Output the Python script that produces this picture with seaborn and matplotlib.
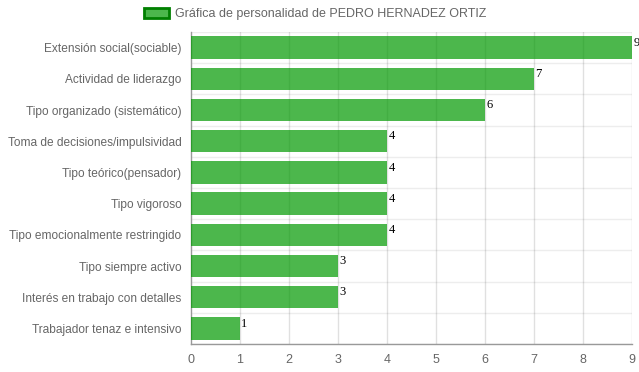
import matplotlib
matplotlib.use("Agg")
import matplotlib.pyplot as plt
import seaborn as sns
import pandas as pd
from matplotlib.patches import Patch

categories = [
    "Extensión social(sociable)",
    "Actividad de liderazgo",
    "Tipo organizado (sistemático)",
    "Toma de decisiones/impulsividad",
    "Tipo teórico(pensador)",
    "Tipo vigoroso",
    "Tipo emocionalmente restringido",
    "Tipo siempre activo",
    "Interés en trabajo con detalles",
    "Trabajador tenaz e intensivo",
]
values = [9, 7, 6, 4, 4, 4, 4, 3, 3, 1]
x_ticks = [0, 1, 2, 3, 4, 5, 6, 7, 8, 9]
legend_label = "Gráfica de personalidad de PEDRO HERNADEZ ORTIZ"

df = pd.DataFrame({"cat": categories, "val": values})

sns.set_theme(style="white")
plt.rcParams["font.family"] = ["Liberation Sans", "DejaVu Sans"]

fig = plt.figure(figsize=(6.39, 3.72), dpi=100)
ax = fig.add_axes([191 / 639, 28 / 372, (632 - 191) / 639, (340 - 28) / 372])

bar_rgba = (0, 153 / 255, 0, 0.7)
sns.barplot(data=df, x="val", y="cat", orient="h", color=(0, 0.6, 0),
            width=0.72, ax=ax, zorder=3, saturation=1)
for p in ax.patches:
    p.set_facecolor(bar_rgba)
    p.set_edgecolor("none")

ax.set_xlim(0, 9)
ax.set_ylim(len(categories) - 0.5, -0.5)
ax.set_xticks(x_ticks)
ax.set_xticklabels([str(t) for t in x_ticks])
ax.set_xlabel("")
ax.set_ylabel("")

# grid
for t in x_ticks[1:]:
    ax.axvline(t, color=(0, 0, 0, 0.12), lw=1, zorder=1)
for b in [i + 0.5 for i in range(-1, len(categories))]:
    ax.axhline(b, color=(0, 0, 0, 0.07), lw=1, zorder=1)

for s in ["top", "right"]:
    ax.spines[s].set_visible(False)
ax.spines["left"].set_color("#999999")
ax.spines["bottom"].set_color("#999999")
ax.spines["left"].set_linewidth(1)
ax.spines["bottom"].set_linewidth(1)

ax.tick_params(axis="x", colors="#666666", labelsize=9, length=5, width=1,
               direction="out", pad=2)
ax.tick_params(axis="x", color=(0, 0, 0, 0.15))
ax.tick_params(axis="y", colors="#666666", labelsize=8.6, length=0, pad=7)
for lab in ax.get_xticklabels() + ax.get_yticklabels():
    lab.set_color("#666666")

for i, v in enumerate(values):
    ax.annotate(str(v), xy=(v, i), xytext=(1, 3.5), textcoords="offset points",
                ha="left", va="center", fontsize=9, family="Liberation Serif",
                color="black", zorder=5, annotation_clip=False)

handle = Patch(facecolor=bar_rgba, edgecolor=(0, 0.5, 0), linewidth=2)
fig.legend([handle], [legend_label], loc="center",
           bbox_to_anchor=(0.5 - 4 / 639, 1 - 14 / 372),
           frameon=False, fontsize=9, handlelength=2.0, handleheight=0.9,
           labelcolor="#666666", handletextpad=0.5)

fig.savefig("out.png", dpi=100)
